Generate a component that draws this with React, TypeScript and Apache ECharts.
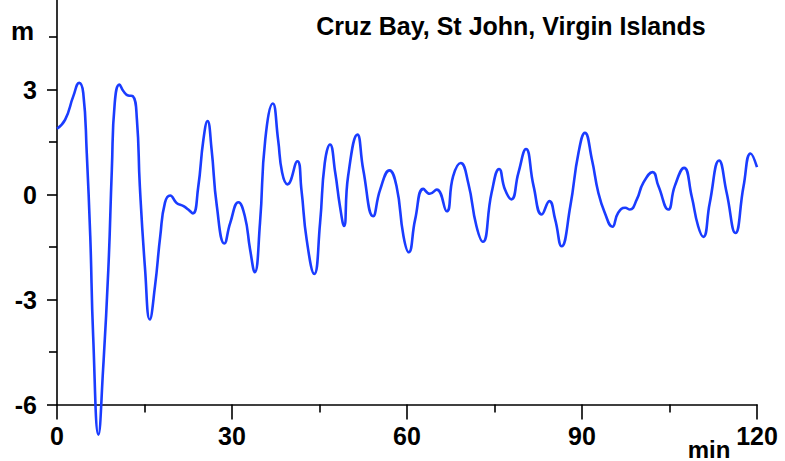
import React, { useEffect, useRef } from "react";
import * as echarts from "echarts";

// Tide gauge record, minutes after arrival vs. water level (m)
const timeMin: number[] = [
  0, 1.4, 2.8, 3.8, 4.5, 5.1, 5.7, 6.2, 7.1, 7.9, 8.8, 9.4, 9.9, 10.7, 11.4,
  12.2, 13.0, 13.7, 14.2, 15.1, 15.9, 16.8, 17.7, 18.5, 19.4, 20.5, 21.7, 22.5,
  23.3, 24.2, 25.1, 25.8, 26.5, 27.4, 28.7, 29.7, 31.1, 32.2, 33.1, 33.9, 34.8,
  35.7, 37.0, 37.9, 38.6, 39.5, 41.2, 41.9, 42.8, 44.1, 45.1, 45.9, 46.8, 47.7,
  48.5, 49.2, 49.9, 51.5, 52.5, 54.2, 55.4, 57.0, 58.2, 59.4, 60.3, 61.4, 62.8,
  63.9, 65.1, 66.8, 67.9, 69.2, 70.5, 71.9, 73.0, 74.5, 75.8, 76.8, 77.9, 79.1,
  80.4, 81.7, 83.1, 84.4, 85.4, 86.5, 88.0, 89.4, 90.5, 91.7, 92.8, 93.9, 95.2,
  96.2, 97.4, 98.2, 99.4, 100.5, 102.1, 103.1, 104.8, 105.9, 107.5, 108.8,
  109.9, 110.8, 111.9, 113.5, 114.8, 116.3, 117.7, 118.9, 120,
];

const waterLevel: number[] = [
  1.88, 2.14, 2.81, 3.19, 2.9, 1.19, -1.19, -4.05, -6.86, -5.0, -2.14, 0.71,
  2.62, 3.14, 2.95, 2.83, 2.81, 2.14, 0.24, -2.14, -3.57, -2.62, -1.19, -0.24,
  -0.03, -0.24, -0.33, -0.43, -0.54, 0.2, 1.57, 2.1, 1.29, -0.33, -1.4, -0.81,
  -0.22, -0.62, -1.57, -2.22, -0.81, 1.57, 2.6, 1.57, 0.62, 0.29, 0.95, 0.14,
  -1.29, -2.27, -0.81, 0.9, 1.43, 0.62, -0.33, -0.9, 0.52, 1.71, 0.71, -0.62,
  0.14, 0.69, 0.24, -1.19, -1.65, -0.71, 0.16, 0.02, 0.14, -0.48, 0.52, 0.9,
  0.33, -0.9, -1.35, 0.05, 0.73, 0.14, -0.14, 0.62, 1.3, 0.24, -0.57, -0.19,
  -0.71, -1.48, -0.33, 1.19, 1.76, 1.0, 0.05, -0.52, -0.92, -0.52, -0.38,
  -0.43, -0.14, 0.33, 0.64, 0.24, -0.43, 0.24, 0.76, -0.05, -0.9, -1.21, -0.24,
  0.97, 0.05, -1.1, 0.24, 1.17, 0.78,
];

const titleText = "Cruz Bay, St John, Virgin Islands";
const xUnit = "min";
const yUnit = "m";

const FONT = '"Liberation Sans", Arial, Helvetica, sans-serif';

export default function App() {
  const ref = useRef<HTMLDivElement>(null);

  useEffect(() => {
    if (!ref.current) return;
    document.body.style.margin = "0";
    const chart = echarts.init(ref.current, null, { renderer: "svg" });
    const seriesData = timeMin.map((t, i) => [t, waterLevel[i]]);

    const axisLabel = {
      color: "#000",
      fontFamily: FONT,
      fontWeight: "bold" as const,
      fontSize: 25,
    };

    chart.setOption({
      animation: false,
      backgroundColor: "#fff",
      grid: {
        left: 57,
        right: 28,
        top: -15.5,
        bottom: 56.5,
        outerBoundsMode: "none",
      },
      xAxis: {
        type: "value",
        min: 0,
        max: 120,
        interval: 30,
        axisLine: { show: true, onZero: false, lineStyle: { color: "#000", width: 1.6 } },
        axisTick: { show: true, length: 15, lineStyle: { color: "#000", width: 1.6 } },
        minorTick: { show: true, splitNumber: 2, length: 8, lineStyle: { color: "#000", width: 1.6 } },
        splitLine: { show: false },
        axisLabel: { ...axisLabel, margin: 19 },
      },
      yAxis: {
        type: "value",
        min: -6,
        max: 6,
        interval: 3,
        axisLine: { show: true, onZero: false, lineStyle: { color: "#000", width: 1.6 } },
        axisTick: { show: true, length: 10, lineStyle: { color: "#000", width: 1.6 } },
        minorTick: { show: true, splitNumber: 2, length: 8, lineStyle: { color: "#000", width: 1.6 } },
        splitLine: { show: false },
        axisLabel: { ...axisLabel, margin: 20, showMaxLabel: false },
      },
      graphic: [
        {
          type: "text",
          x: 511,
          y: 26,
          style: {
            text: titleText,
            align: "center",
            verticalAlign: "middle",
            font: `bold 25px ${FONT}`,
            fill: "#000",
          },
        },
        {
          type: "text",
          x: 22.5,
          y: 31,
          style: {
            text: yUnit,
            align: "center",
            verticalAlign: "middle",
            font: `bold 26px ${FONT}`,
            fill: "#000",
          },
        },
        {
          type: "text",
          x: 709,
          y: 449,
          style: {
            text: xUnit,
            align: "center",
            verticalAlign: "middle",
            font: `bold 24px ${FONT}`,
            fill: "#000",
          },
        },
      ],
      series: [
        {
          type: "line",
          data: seriesData,
          smooth: 0.5,
          showSymbol: false,
          clip: false,
          z: 5,
          lineStyle: { color: "#1a3cff", width: 2.6 },
        },
      ],
    });

    return () => chart.dispose();
  }, []);

  return <div ref={ref} style={{ width: 785, height: 461 }} />;
}
